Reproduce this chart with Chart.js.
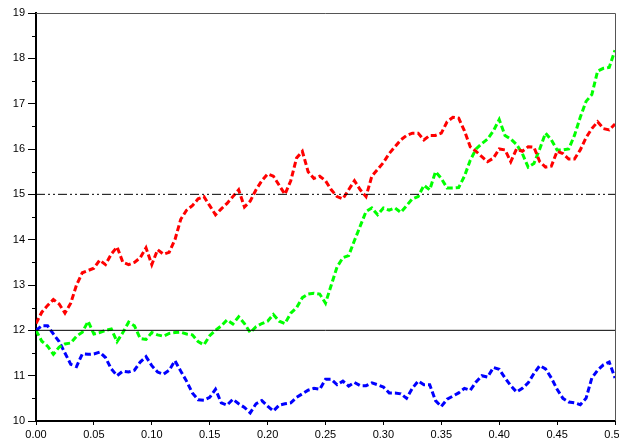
<!DOCTYPE html>
<html>
<head>
<meta charset="utf-8">
<script src="https://cdn.jsdelivr.net/npm/chart.js@4/dist/chart.umd.min.js"></script>
<style>
  html, body { margin: 0; padding: 0; background: #fff; overflow: hidden; }
</style>
</head>
<body>
<canvas id="chart" width="619" height="439"></canvas>
<script>
// time axis (0 .. 0.5, one sample every 0.005)
const times = [
    0.000, 0.005, 0.010, 0.015, 0.020, 0.025, 0.030, 0.035, 0.040, 0.045,
    0.050, 0.055, 0.060, 0.065, 0.070, 0.075, 0.080, 0.085, 0.090, 0.095,
    0.100, 0.105, 0.110, 0.115, 0.120, 0.125, 0.130, 0.135, 0.140, 0.145,
    0.150, 0.155, 0.160, 0.165, 0.170, 0.175, 0.180, 0.185, 0.190, 0.195,
    0.200, 0.205, 0.210, 0.215, 0.220, 0.225, 0.230, 0.235, 0.240, 0.245,
    0.250, 0.255, 0.260, 0.265, 0.270, 0.275, 0.280, 0.285, 0.290, 0.295,
    0.300, 0.305, 0.310, 0.315, 0.320, 0.325, 0.330, 0.335, 0.340, 0.345,
    0.350, 0.355, 0.360, 0.365, 0.370, 0.375, 0.380, 0.385, 0.390, 0.395,
    0.400, 0.405, 0.410, 0.415, 0.420, 0.425, 0.430, 0.435, 0.440, 0.445,
    0.450, 0.455, 0.460, 0.465, 0.470, 0.475, 0.480, 0.485, 0.490, 0.495,
    0.500
];

const redPath = [
    12.15, 12.40, 12.55, 12.68, 12.58, 12.38, 12.60, 13.00, 13.27, 13.32,
    13.37, 13.55, 13.45, 13.68, 13.84, 13.50, 13.45, 13.50, 13.60, 13.82,
    13.45, 13.78, 13.68, 13.72, 14.00, 14.45, 14.65, 14.75, 14.90, 14.95,
    14.75, 14.55, 14.68, 14.80, 14.95, 15.10, 14.72, 14.85, 15.10, 15.30,
    15.45, 15.40, 15.20, 15.00, 15.30, 15.80, 15.95, 15.50, 15.35, 15.40,
    15.30, 15.10, 14.95, 14.90, 15.10, 15.30, 15.10, 14.95, 15.40, 15.55,
    15.70, 15.90, 16.05, 16.20, 16.30, 16.35, 16.35, 16.20, 16.30, 16.30,
    16.35, 16.60, 16.70, 16.68, 16.40, 16.05, 15.95, 15.83, 15.72, 15.80,
    16.00, 15.98, 15.72, 16.00, 15.95, 16.05, 16.04, 15.72, 15.60, 15.62,
    15.95, 15.90, 15.78, 15.78, 15.98, 16.25, 16.45, 16.60, 16.45, 16.42,
    16.55
];

const greenPath = [
    12.00, 11.76, 11.65, 11.47, 11.63, 11.70, 11.72, 11.87, 11.96, 12.20,
    11.92, 11.95, 12.00, 12.03, 11.75, 11.95, 12.18, 12.10, 11.82, 11.80,
    11.95, 11.90, 11.87, 11.93, 11.95, 11.96, 11.92, 11.90, 11.75, 11.68,
    11.88, 12.00, 12.10, 12.23, 12.14, 12.30, 12.15, 11.95, 12.08, 12.15,
    12.20, 12.35, 12.20, 12.15, 12.38, 12.50, 12.72, 12.80, 12.82, 12.80,
    12.60, 13.00, 13.40, 13.60, 13.65, 13.98, 14.30, 14.62, 14.70, 14.55,
    14.70, 14.65, 14.70, 14.60, 14.75, 14.90, 14.95, 15.20, 15.10, 15.50,
    15.35, 15.14, 15.14, 15.15, 15.40, 15.75, 16.00, 16.12, 16.22, 16.40,
    16.65, 16.30, 16.22, 16.10, 15.90, 15.60, 15.68, 16.00, 16.35, 16.20,
    15.98, 15.98, 16.00, 16.30, 16.70, 17.05, 17.20, 17.72, 17.78, 17.80,
    18.18
];

const bluePath = [
    12.00, 12.10, 12.10, 11.92, 11.75, 11.50, 11.25, 11.20, 11.48, 11.47,
    11.48, 11.52, 11.40, 11.15, 11.00, 11.10, 11.08, 11.12, 11.30, 11.42,
    11.22, 11.08, 11.03, 11.12, 11.33, 11.10, 10.88, 10.62, 10.47, 10.46,
    10.52, 10.70, 10.40, 10.35, 10.48, 10.38, 10.30, 10.18, 10.38, 10.45,
    10.33, 10.22, 10.35, 10.38, 10.40, 10.52, 10.60, 10.68, 10.72, 10.70,
    10.92, 10.92, 10.80, 10.88, 10.77, 10.85, 10.78, 10.78, 10.84, 10.80,
    10.75, 10.62, 10.62, 10.60, 10.50, 10.72, 10.88, 10.80, 10.80, 10.45,
    10.32, 10.48, 10.55, 10.62, 10.72, 10.68, 10.86, 11.00, 10.97, 11.18,
    11.14, 10.95, 10.78, 10.64, 10.72, 10.84, 11.05, 11.22, 11.15, 10.95,
    10.70, 10.50, 10.42, 10.40, 10.36, 10.50, 10.95, 11.12, 11.24, 11.30,
    10.95
];

// reference levels: dash-dot line and solid line
const upperLevel = 15;
const startLevel = 12;

// y minor tick positions
const yMinorTicks = [10.5, 11.5, 12.5, 13.5, 14.5, 15.5, 16.5, 17.5, 18.5];

function toPoints(values) {
    return values.map((v, i) => ({ x: times[i], y: v }));
}

function levelLine(level) {
    return [{ x: times[0], y: level }, { x: times[times.length - 1], y: level }];
}

// top/right frame + minor ticks on the y axis
const framePlugin = {
    id: 'framePlugin',
    afterDraw(chart) {
        const ctx = chart.ctx;
        const area = chart.chartArea;
        const y = chart.scales.y;
        ctx.save();
        ctx.strokeStyle = '#555555';
        ctx.lineWidth = 1;
        ctx.beginPath();
        ctx.moveTo(area.left, area.top + 0.5);
        ctx.lineTo(area.right + 0.5, area.top + 0.5);
        ctx.lineTo(area.right + 0.5, area.bottom);
        ctx.stroke();

        ctx.strokeStyle = '#000000';
        ctx.beginPath();
        yMinorTicks.forEach(v => {
            const py = Math.round(y.getPixelForValue(v)) + 0.5;
            ctx.moveTo(area.left - 4, py);
            ctx.lineTo(area.left, py);
        });
        ctx.stroke();
        ctx.restore();
    }
};

const seriesStyle = {
    borderWidth: 3,
    borderDash: [6, 3],
    pointRadius: 0,
    tension: 0,
    fill: false
};

new Chart(document.getElementById('chart').getContext('2d'), {
    type: 'line',
    data: {
        datasets: [
            { data: levelLine(upperLevel), borderColor: '#000000', borderWidth: 1,
              borderDash: [9, 3, 2, 3, 2, 3], pointRadius: 0 },
            { data: levelLine(startLevel), borderColor: '#000000', borderWidth: 1,
              pointRadius: 0 },
            Object.assign({ data: toPoints(redPath), borderColor: '#ff0000' }, seriesStyle),
            Object.assign({ data: toPoints(greenPath), borderColor: '#00ff00' }, seriesStyle),
            Object.assign({ data: toPoints(bluePath), borderColor: '#0000ff' }, seriesStyle)
        ]
    },
    options: {
        responsive: false,
        animation: false,
        layout: { padding: { top: 13, right: 4, left: 0, bottom: 0 } },
        plugins: { legend: { display: false }, tooltip: { enabled: false } },
        scales: {
            x: {
                type: 'linear',
                min: 0,
                max: 0.5,
                border: { color: '#000000', width: 2 },
                grid: { drawOnChartArea: false, color: '#000000', tickLength: 4 },
                ticks: {
                    stepSize: 0.05,
                    color: '#000000',
                    padding: 3,
                    maxRotation: 0,
                    font: { family: 'Liberation Sans', size: 11 },
                    callback: v => v.toFixed(2)
                },
                afterFit: scale => {
                    scale.height = 18;
                    scale.paddingLeft = 0;
                    scale.paddingRight = 0;
                }
            },
            y: {
                min: 10,
                max: 19,
                border: { color: '#000000', width: 2 },
                grid: { drawOnChartArea: false, color: '#000000', tickLength: 8 },
                ticks: {
                    stepSize: 1,
                    color: '#000000',
                    padding: 3,
                    font: { family: 'Liberation Sans', size: 11 }
                },
                afterFit: scale => {
                    scale.width = 36;
                }
            }
        }
    },
    plugins: [framePlugin]
});
</script>
</body>
</html>
